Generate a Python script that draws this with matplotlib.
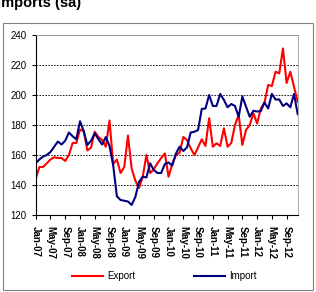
import matplotlib
matplotlib.use("Agg")
import matplotlib.pyplot as plt
import matplotlib.patches as patches
import numpy as np

# monthly index values, Jan-07 .. Dec-12
export = [144, 152, 152, 154.5, 157, 158.5, 158, 158, 156, 160, 168, 168,
          177, 176, 163, 165, 175.5, 172, 170, 165.5, 183, 154, 157, 148,
          152, 173, 151, 143, 138, 145.5, 160, 148, 150.5, 154.5, 158, 161,
          145.5, 154, 160, 161.5, 172, 170, 164.5, 160, 165, 170.5, 166, 184.5,
          165.5, 167.8, 166, 177.8, 165.5, 168, 180, 186.7, 166.7, 176.7, 180, 187.8,
          181, 191, 195, 206.7, 206, 215.5, 214.4, 231, 208, 215.5, 205.5, 195.5]
imports = [154.5, 157, 159, 160, 162, 165.5, 169, 167, 169.5, 175, 172.5, 170.5,
           182.5, 176, 166.7, 169.5, 174.5, 170.5, 167, 172, 166, 153, 132.5, 130,
           129.5, 129, 126.7, 132, 142, 145.5, 145, 154.5, 150, 148, 148, 154,
           155, 153, 161, 165.5, 162.7, 165, 175, 175.5, 176.7, 190.7, 191, 200,
           192.7, 192.7, 200.7, 196.7, 191.8, 194, 192.7, 185.5, 199, 192.2, 185.5, 189.5,
           189, 189.3, 195, 191, 200.7, 197, 197, 192.7, 194.4, 191.8, 200.7, 187.3]
tick_labels = ["Jan-07", "May-07", "Sep-07", "Jan-08", "May-08", "Sep-08",
               "Jan-09", "May-09", "Sep-09", "Jan-10", "May-10", "Sep-10",
               "Jan-11", "May-11", "Sep-11", "Jan-12", "May-12", "Sep-12"]

plt.rcParams['font.family'] = ['Liberation Sans', 'DejaVu Sans']

W, H = 316, 292
fig = plt.figure(figsize=(W / 100, H / 100), dpi=100)

# outer chart frame
fig.patches.append(patches.Rectangle((2.5 / W, 1 - 289.5 / H), 310.5 / W, 267 / H,
                                     transform=fig.transFigure, fill=False,
                                     edgecolor="#808080", linewidth=0.8))
# title sits partly above the image edge, as in the source crop
fig.text(-3 / W, 1 - 7.5 / H, "Imports (sa)", fontsize=10.5, fontweight="bold",
         ha="left", va="baseline")

ax = fig.add_axes([35.7 / W, 1 - 215 / H, 262 / W, 180 / H])
x = np.arange(len(export))
ax.plot(x, export, color="#FF0000", lw=1.5, label="Export")
ax.plot(x, imports, color="#000080", lw=1.5, label="Import")

ax.set_xlim(0, len(export) - 1)
ax.set_ylim(120, 240)
ax.set_yticks(range(120, 241, 20))
ax.set_xticks(range(0, 4 * len(tick_labels), 4))
ax.set_xticklabels(tick_labels, rotation=-90, fontweight="bold", fontsize=7)
ax.tick_params(axis="y", labelsize=7, length=3, width=0.8, direction="out")
ax.tick_params(axis="x", length=3, width=0.8, direction="out", pad=5)
ax.grid(axis="y", color="black", linestyle=(0, (2, 1.5)), linewidth=0.6)
for s in ["top", "right"]:
    ax.spines[s].set_color("#a0a0a0")
    ax.spines[s].set_linewidth(0.6)
for s in ["left", "bottom"]:
    ax.spines[s].set_linewidth(0.8)

fig.legend(loc="center", bbox_to_anchor=(0.52, 1 - 276 / H), ncol=2, frameon=False,
           fontsize=7, handlelength=3.2, columnspacing=6, handletextpad=0.4)

fig.savefig("out.png", dpi=100)
